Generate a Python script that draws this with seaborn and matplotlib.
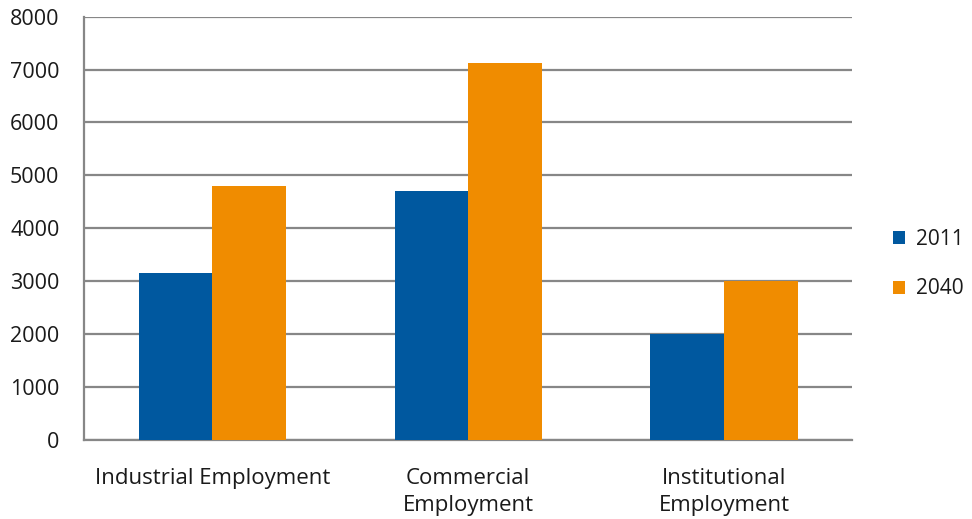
import matplotlib
matplotlib.use("Agg")
import matplotlib.pyplot as plt
import seaborn as sns
import pandas as pd
from matplotlib.ticker import FixedLocator

categories = ["Industrial Employment", "Commercial\nEmployment", "Institutional\nEmployment"]
years = ["2011", "2040"]
values_2011 = [3160, 4710, 2000]
values_2040 = [4790, 7130, 3010]
y_ticks = [0, 1000, 2000, 3000, 4000, 5000, 6000, 7000, 8000]

df = pd.DataFrame({
    "category": categories * 2,
    "year": [years[0]] * 3 + [years[1]] * 3,
    "value": values_2011 + values_2040,
})

sns.set_style("white")
plt.rcParams["font.family"] = ["Open Sans", "DejaVu Sans"]

fig = plt.figure(figsize=(9.72, 5.19), dpi=100)
ax = fig.add_axes([0.0869, 0.1522, 0.8765 - 0.0869, 0.968 - 0.1522])

grid_c = "#878787"
text_c = "#1a1a1a"
palette = {"2011": "#00589F", "2040": "#F08C00"}
sns.barplot(data=df, x="category", y="value", hue="year", order=categories,
            hue_order=years, palette=palette, width=0.575, gap=0,
            saturation=1, ax=ax, zorder=3, linewidth=0)

ax.set_ylim(0, 8000)
ax.set_xlim(-0.5, 2.5)
ax.set_yticks(y_ticks)
ax.set_yticklabels([str(v) for v in y_ticks], fontsize=15.5, color=text_c)
ax.yaxis.grid(True, color=grid_c, linewidth=1.6, zorder=0)
ax.set_axisbelow(True)
ax.set_xlabel("")
ax.set_ylabel("")

ax.tick_params(axis="x", which="major", length=0, pad=20, labelsize=16, labelcolor=text_c)
for lbl in ax.get_xticklabels():
    lbl.set_linespacing(1.4)
ax.xaxis.set_minor_locator(FixedLocator([-0.5, 0.5, 1.5, 2.5]))
ax.tick_params(axis="x", which="minor", length=6, width=1.6, color=grid_c, direction="out")
ax.tick_params(axis="y", length=6, width=1.6, color=grid_c, direction="out", pad=12)

for s in ["top", "right"]:
    ax.spines[s].set_visible(False)
for s in ["left", "bottom"]:
    ax.spines[s].set_color(grid_c)
    ax.spines[s].set_linewidth(1.6)

handles, labels = ax.get_legend_handles_labels()
ax.legend_.remove() if ax.legend_ else None
leg = fig.legend(handles, labels, loc="center left",
                 bbox_to_anchor=(893 / 972, 1 - 264 / 519), frameon=False,
                 fontsize=15, handlelength=0.58, handleheight=0.58,
                 labelspacing=1.38, handletextpad=0.5, borderpad=0, borderaxespad=0)
for t in leg.get_texts():
    t.set_color(text_c)

fig.savefig("out.png", dpi=100)
